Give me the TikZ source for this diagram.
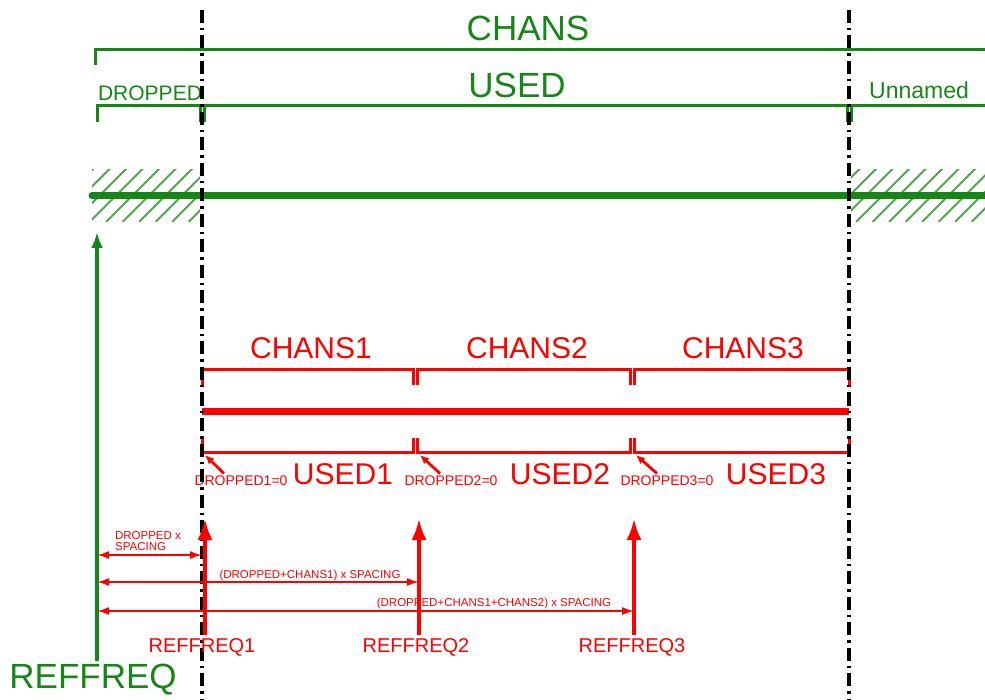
\documentclass[tikz,border=0pt]{standalone}
\usepackage{fontspec}
\setmainfont{Liberation Sans}
\usetikzlibrary{
    arrows.meta,   % Required for "Latex" arrowheads
    positioning,
    calc
}
\definecolor{specgreen}{RGB}{22,134,22}
\definecolor{specred}{RGB}{255,0,0}
\newcommand{\fsz}[1]{\fontsize{#1}{#1}\selectfont}

\begin{document}
\begin{tikzpicture}[
        x=1pt, y=-1pt,
        % Styles
        bigg/.style={text=specgreen, font=\fsz{35}},
        midg/.style={text=specgreen, font=\fsz{21}},
        bigr/.style={text=specred, font=\fsz{30}},
        midr/.style={text=specred, font=\fsz{20}},
        tinyr/.style={text=specred, font=\fsz{11.5}},
        smallr/.style={text=specred, font=\fsz{14}},
        gbrace/.style={draw=specgreen, line width=3pt},
        rbrace/.style={draw=specred, line width=3pt},
        band/.style={line width=7pt, line cap=round},
        hatch/.style={draw=specgreen!75, line width=1.8pt},
        border/.style={draw=black, line width=3.2pt, dash pattern=on 13pt off 5pt on 2.5pt off 5pt},
        ref arrow/.style={-{Latex[length=22pt, width=15pt]}, draw=specred, line width=4.5pt},
        main arrow/.style={-{Latex[length=16pt, width=12pt]}, draw=specgreen, line width=3.5pt},
        dim/.style={{Latex[length=12pt, width=8pt]}-{Latex[length=12pt, width=8pt]}, draw=specred, line width=2pt},
        ptr/.style={-{Latex[length=9pt, width=8pt]}, draw=specred, line width=2.8pt}
    ]
    \useasboundingbox (0,0) rectangle (985,700);

    % --- Coordinates ---
    \coordinate (BL) at (202,10);   % left border of used band
    \coordinate (BR) at (849,10);   % right border of used band
    \coordinate (G)  at (97,232);   % tip of the reference arrow
    \coordinate (T1) at (205,518);
    \coordinate (T2) at (419,518);
    \coordinate (T3) at (634,518);

    % --- 1. Hatched (unused) parts of the spectrum ---
    \begin{scope}
        \clip (92,170) rectangle (200,222);
        \foreach \x in {40,56.5,...,220}
            \draw[hatch] (\x,222) -- ++(54,-54);
    \end{scope}
    \begin{scope}
        \clip (851,170) rectangle (985,222);
        \foreach \x in {790,806.5,...,1000}
            \draw[hatch] (\x,222) -- ++(54,-54);
    \end{scope}

    % Spectrum lines
    \draw[band, draw=specgreen] (92,196) -- (985,196);
    \draw[band, draw=specred, line cap=butt] (202,411) -- (849,411);

    % --- 2. Green braces ---
    \draw[gbrace] (95,65) -- (95,50) -- (990,50);
    \draw[gbrace] (97,122) -- (97,106) -- (200,106) -- (200,122);
    \draw[gbrace] (204,122) -- (204,106) -- (847,106) -- (847,122);
    \draw[gbrace] (851,122) -- (851,106) -- (990,106);

    \node[bigg] (chans) at (528,28) {CHANS};
    \node[bigg] (used) at (517,85) {USED};
    \node[midg] (dropped) at (150,93) {DROPPED};
    \node[text=specgreen, font=\fsz{23}] (unnamed) at (919,90) {Unnamed};

    % --- 3. Red braces ---
    \foreach \a/\b in {202/413, 417/630, 634/849} {
        \draw[rbrace] (\a,385) -- (\a,370) -- (\b,370) -- (\b,385);
        \draw[rbrace] (\a,438) -- (\a,452) -- (\b,452) -- (\b,438);
    }

    \node[bigr] (chans1) at (311,348) {CHANS1};
    \node[bigr] (chans2) at (527,348) {CHANS2};
    \node[bigr] (chans3) at (743,348) {CHANS3};
    \node[bigr] (used1) at (343,474) {USED1};
    \node[bigr] (used2) at (560,474) {USED2};
    \node[bigr] (used3) at (776,474) {USED3};

    \node[smallr] (drop1) at (241,481) {DROPPED1=0};
    \node[smallr] (drop2) at (451,481) {DROPPED2=0};
    \node[smallr] (drop3) at (667,481) {DROPPED3=0};
    \coordinate (c1) at (205,455);
    \coordinate (c2) at (420,455);
    \coordinate (c3) at (636,455);
    \draw[ptr] ([xshift=33pt, yshift=-1pt]drop1.north west) -- (c1);
    \draw[ptr] ([xshift=39pt, yshift=-1pt]drop2.north west) -- (c2);
    \draw[ptr] ([xshift=40pt, yshift=-1pt]drop3.north west) -- (c3);

    % --- 4. Borders (dash-dot) ---
    \draw[border] (BL) -- (BL |- 0,700);
    \draw[border] (BR) -- (BR |- 0,700);

    % --- 5. Reference frequencies ---
    \node[text=specgreen, font=\fsz{35}] (reffreq) at (93,680) {REFFREQ};
    \draw[main arrow] (reffreq.north -| G) -- (G);

    \node[midr] (ref1) at (202,647) {REFFREQ1};
    \node[midr] (ref2) at (416,647) {REFFREQ2};
    \node[midr] (ref3) at (632,647) {REFFREQ3};
    \draw[ref arrow] (ref1.north -| T1) -- (T1);
    \draw[ref arrow] (ref2.north -| T2) -- (T2);
    \draw[ref arrow] (ref3.north -| T3) -- (T3);

    % --- 6. Offsets ---
    \draw[dim] (G |- 0,555) -- (BL |- 0,555);
    \draw[dim] (G |- 0,582) -- (T2 |- 0,582);
    \draw[dim] (G |- 0,611) -- (T3 |- 0,611);
    \node[tinyr, align=left, inner sep=0pt] (off1) at (148,541) {DROPPED x\\SPACING};
    \node[tinyr] (off2) at (310,576) {(DROPPED+CHANS1) x SPACING};
    \node[tinyr] (off3) at (494,604) {(DROPPED+CHANS1+CHANS2) x SPACING};

\end{tikzpicture}
\end{document}
